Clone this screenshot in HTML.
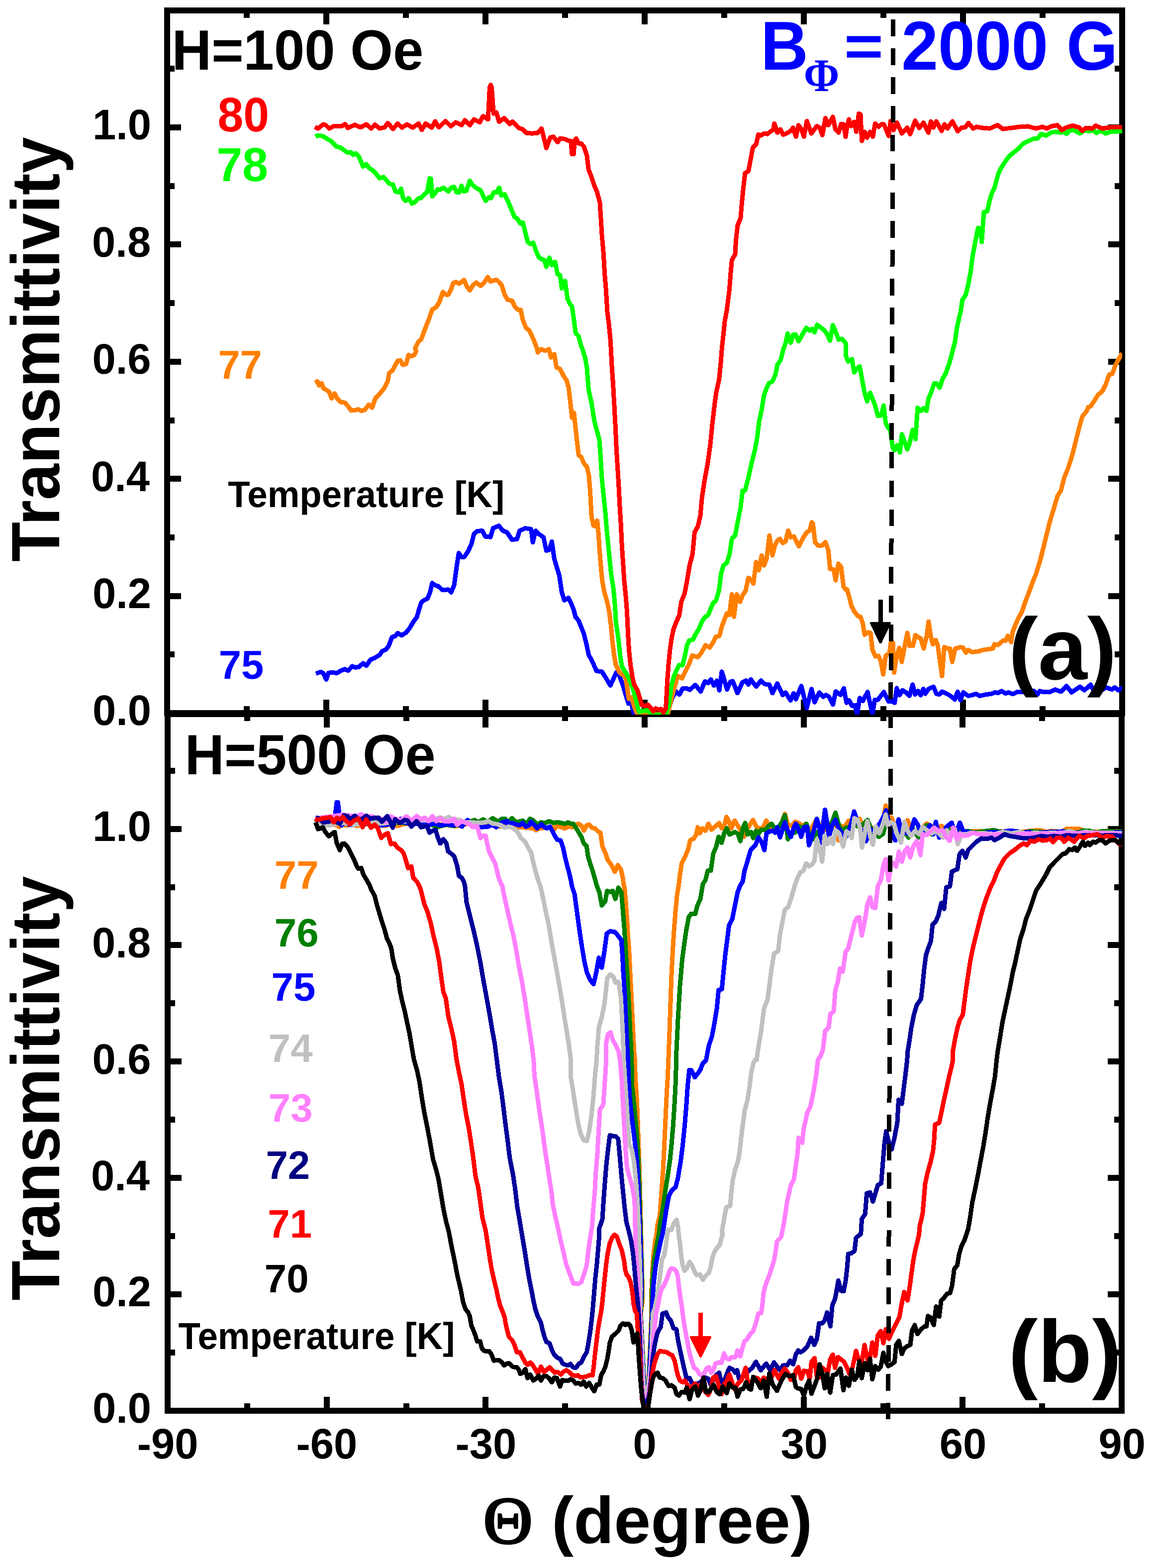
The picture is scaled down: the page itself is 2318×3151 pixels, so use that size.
<!DOCTYPE html>
<html lang="en"><head><meta charset="utf-8"><title>Transmittivity vs angle</title>
<style>
html,body{margin:0;padding:0;background:#fff;}
body{width:2318px;height:3151px;overflow:hidden;font-family:"Liberation Sans",sans-serif;}
svg{display:block;}
</style></head><body>
<svg xmlns="http://www.w3.org/2000/svg" width="2318" height="3151" viewBox="0 0 2318 3151" shape-rendering="crispEdges" text-rendering="geometricPrecision">
<rect x="0" y="0" width="2318" height="3151" fill="#fff"/>
<g stroke="#000" stroke-width="12" fill="none" stroke-linecap="butt">
<rect x="335.9" y="21.0" width="1920.1" height="1412.0"/>
<line x1="335.9" y1="21.0" x2="335.9" y2="49.0"/>
<line x1="335.9" y1="1405.6" x2="335.9" y2="1433.0"/>
<line x1="495.9" y1="21.0" x2="495.9" y2="36.0"/>
<line x1="495.9" y1="1418.6" x2="495.9" y2="1433.0"/>
<line x1="655.9" y1="21.0" x2="655.9" y2="49.0"/>
<line x1="655.9" y1="1405.6" x2="655.9" y2="1433.0"/>
<line x1="815.9" y1="21.0" x2="815.9" y2="36.0"/>
<line x1="815.9" y1="1418.6" x2="815.9" y2="1433.0"/>
<line x1="975.9" y1="21.0" x2="975.9" y2="49.0"/>
<line x1="975.9" y1="1405.6" x2="975.9" y2="1433.0"/>
<line x1="1135.9" y1="21.0" x2="1135.9" y2="36.0"/>
<line x1="1135.9" y1="1418.6" x2="1135.9" y2="1433.0"/>
<line x1="1295.9" y1="21.0" x2="1295.9" y2="49.0"/>
<line x1="1295.9" y1="1405.6" x2="1295.9" y2="1433.0"/>
<line x1="1456.0" y1="21.0" x2="1456.0" y2="36.0"/>
<line x1="1456.0" y1="1418.6" x2="1456.0" y2="1433.0"/>
<line x1="1616.0" y1="21.0" x2="1616.0" y2="49.0"/>
<line x1="1616.0" y1="1405.6" x2="1616.0" y2="1433.0"/>
<line x1="1776.0" y1="21.0" x2="1776.0" y2="36.0"/>
<line x1="1776.0" y1="1418.6" x2="1776.0" y2="1433.0"/>
<line x1="1936.0" y1="21.0" x2="1936.0" y2="49.0"/>
<line x1="1936.0" y1="1405.6" x2="1936.0" y2="1433.0"/>
<line x1="2096.0" y1="21.0" x2="2096.0" y2="36.0"/>
<line x1="2096.0" y1="1418.6" x2="2096.0" y2="1433.0"/>
<line x1="2256.0" y1="21.0" x2="2256.0" y2="49.0"/>
<line x1="2256.0" y1="1405.6" x2="2256.0" y2="1433.0"/>
<line x1="335.9" y1="1433.0" x2="363.9" y2="1433.0"/>
<line x1="2228.0" y1="1433.0" x2="2256.0" y2="1433.0"/>
<line x1="335.9" y1="1315.3" x2="350.9" y2="1315.3"/>
<line x1="2241.0" y1="1315.3" x2="2256.0" y2="1315.3"/>
<line x1="335.9" y1="1197.6" x2="363.9" y2="1197.6"/>
<line x1="2228.0" y1="1197.6" x2="2256.0" y2="1197.6"/>
<line x1="335.9" y1="1079.9" x2="350.9" y2="1079.9"/>
<line x1="2241.0" y1="1079.9" x2="2256.0" y2="1079.9"/>
<line x1="335.9" y1="962.2" x2="363.9" y2="962.2"/>
<line x1="2228.0" y1="962.2" x2="2256.0" y2="962.2"/>
<line x1="335.9" y1="844.5" x2="350.9" y2="844.5"/>
<line x1="2241.0" y1="844.5" x2="2256.0" y2="844.5"/>
<line x1="335.9" y1="726.8" x2="363.9" y2="726.8"/>
<line x1="2228.0" y1="726.8" x2="2256.0" y2="726.8"/>
<line x1="335.9" y1="609.1" x2="350.9" y2="609.1"/>
<line x1="2241.0" y1="609.1" x2="2256.0" y2="609.1"/>
<line x1="335.9" y1="491.4" x2="363.9" y2="491.4"/>
<line x1="2228.0" y1="491.4" x2="2256.0" y2="491.4"/>
<line x1="335.9" y1="373.7" x2="350.9" y2="373.7"/>
<line x1="2241.0" y1="373.7" x2="2256.0" y2="373.7"/>
<line x1="335.9" y1="256.0" x2="363.9" y2="256.0"/>
<line x1="2228.0" y1="256.0" x2="2256.0" y2="256.0"/>
<line x1="335.9" y1="138.3" x2="350.9" y2="138.3"/>
<line x1="2241.0" y1="138.3" x2="2256.0" y2="138.3"/>
<rect x="337.0" y="1435.0" width="1918.1" height="1400.2"/>
<line x1="337.0" y1="1435.0" x2="337.0" y2="1461.6"/>
<line x1="337.0" y1="2807.2" x2="337.0" y2="2835.2"/>
<line x1="496.8" y1="1435.0" x2="496.8" y2="1448.6"/>
<line x1="496.8" y1="2820.2" x2="496.8" y2="2835.2"/>
<line x1="656.7" y1="1435.0" x2="656.7" y2="1461.6"/>
<line x1="656.7" y1="2807.2" x2="656.7" y2="2835.2"/>
<line x1="816.5" y1="1435.0" x2="816.5" y2="1448.6"/>
<line x1="816.5" y1="2820.2" x2="816.5" y2="2835.2"/>
<line x1="976.4" y1="1435.0" x2="976.4" y2="1461.6"/>
<line x1="976.4" y1="2807.2" x2="976.4" y2="2835.2"/>
<line x1="1136.2" y1="1435.0" x2="1136.2" y2="1448.6"/>
<line x1="1136.2" y1="2820.2" x2="1136.2" y2="2835.2"/>
<line x1="1296.0" y1="1435.0" x2="1296.0" y2="1461.6"/>
<line x1="1296.0" y1="2807.2" x2="1296.0" y2="2835.2"/>
<line x1="1455.9" y1="1435.0" x2="1455.9" y2="1448.6"/>
<line x1="1455.9" y1="2820.2" x2="1455.9" y2="2835.2"/>
<line x1="1615.7" y1="1435.0" x2="1615.7" y2="1461.6"/>
<line x1="1615.7" y1="2807.2" x2="1615.7" y2="2835.2"/>
<line x1="1775.6" y1="1435.0" x2="1775.6" y2="1448.6"/>
<line x1="1775.6" y1="2820.2" x2="1775.6" y2="2835.2"/>
<line x1="1935.4" y1="1435.0" x2="1935.4" y2="1461.6"/>
<line x1="1935.4" y1="2807.2" x2="1935.4" y2="2835.2"/>
<line x1="2095.3" y1="1435.0" x2="2095.3" y2="1448.6"/>
<line x1="2095.3" y1="2820.2" x2="2095.3" y2="2835.2"/>
<line x1="2255.1" y1="1435.0" x2="2255.1" y2="1461.6"/>
<line x1="2255.1" y1="2807.2" x2="2255.1" y2="2835.2"/>
<line x1="337.0" y1="2835.0" x2="365.0" y2="2835.0"/>
<line x1="2227.1" y1="2835.0" x2="2255.1" y2="2835.0"/>
<line x1="337.0" y1="2718.1" x2="352.0" y2="2718.1"/>
<line x1="2240.1" y1="2718.1" x2="2255.1" y2="2718.1"/>
<line x1="337.0" y1="2601.1" x2="365.0" y2="2601.1"/>
<line x1="2227.1" y1="2601.1" x2="2255.1" y2="2601.1"/>
<line x1="337.0" y1="2484.2" x2="352.0" y2="2484.2"/>
<line x1="2240.1" y1="2484.2" x2="2255.1" y2="2484.2"/>
<line x1="337.0" y1="2367.2" x2="365.0" y2="2367.2"/>
<line x1="2227.1" y1="2367.2" x2="2255.1" y2="2367.2"/>
<line x1="337.0" y1="2250.2" x2="352.0" y2="2250.2"/>
<line x1="2240.1" y1="2250.2" x2="2255.1" y2="2250.2"/>
<line x1="337.0" y1="2133.3" x2="365.0" y2="2133.3"/>
<line x1="2227.1" y1="2133.3" x2="2255.1" y2="2133.3"/>
<line x1="337.0" y1="2016.3" x2="352.0" y2="2016.3"/>
<line x1="2240.1" y1="2016.3" x2="2255.1" y2="2016.3"/>
<line x1="337.0" y1="1899.4" x2="365.0" y2="1899.4"/>
<line x1="2227.1" y1="1899.4" x2="2255.1" y2="1899.4"/>
<line x1="337.0" y1="1782.5" x2="352.0" y2="1782.5"/>
<line x1="2240.1" y1="1782.5" x2="2255.1" y2="1782.5"/>
<line x1="337.0" y1="1665.5" x2="365.0" y2="1665.5"/>
<line x1="2227.1" y1="1665.5" x2="2255.1" y2="1665.5"/>
<line x1="337.0" y1="1548.5" x2="352.0" y2="1548.5"/>
<line x1="2240.1" y1="1548.5" x2="2255.1" y2="1548.5"/>
</g>
<defs><clipPath id="ca"><rect x="337" y="21" width="1919" height="1415"/></clipPath><clipPath id="cb"><rect x="337" y="1434" width="1919" height="1403"/></clipPath></defs>
<polyline points="635,1353.6 644.9,1350.2 649.9,1352.9 655.9,1365.6 660.6,1352.2 669.9,1351.2 677.2,1352.9 684.9,1347.9 693.2,1344.6 699.9,1347.9 708.2,1338.9 714.9,1341.3 721.5,1340.3 729.8,1332.9 736.5,1337.9 744.8,1325.6 753.1,1322.3 763.1,1316.3 768.1,1309 776.5,1304.6 781.4,1298 788.1,1280.3 794.8,1278 799.8,1272.3 807.1,1277 816.4,1271.3 823.1,1263 831.4,1249 838,1240.4 841.4,1228.1 847,1210.4 852.4,1206.4 859.7,1202.4 864.7,1189.8 869,1171.5 873.7,1175.8 881.3,1178.1 889.6,1185.8 901.3,1184.8 907,1190.4 913,1175.8 917.9,1139.8 922.3,1111.5 927.9,1119.2 933.6,1119.2 941.3,1107.2 947.9,1093.2 952.9,1072.6 959.6,1067.3 969.6,1066.6 975.5,1078.2 986.2,1079.2 991.2,1061.6 1002.8,1056.6 1011.2,1066.6 1019.5,1069.9 1029.5,1084.9 1039.5,1083.2 1044.5,1066.6 1056.1,1061.6 1067.8,1063.3 1071.1,1089.9 1076.8,1066.6 1082.7,1072.6 1092.7,1079.9 1098.4,1106.5 1104.4,1104.9 1109.4,1088.2 1114.4,1123.2 1124.4,1156.5 1129.4,1189.8 1134.4,1206.4 1142.7,1201.4 1148.4,1213 1153.3,1225.1 1156.9,1239.6 1163,1246.9 1169,1261.4 1173.8,1273.5 1178.7,1292.9 1183.5,1315.9 1190.8,1329.2 1199.3,1348.5 1210.2,1349.8 1218.6,1363.1 1227.1,1377.6 1239.2,1351 1245.3,1358.2 1252.5,1377.6 1257.4,1394.6 1263.4,1413.9 1269.5,1412.7 1273.1,1430.9 1275.5,1436.9 1317.9,1436.9 1342.1,1430.9 1351.8,1401.8 1359.1,1389.7 1365.9,1395.8 1372.4,1383.7 1380.9,1383.7 1386.9,1386.1 1397.8,1376.4 1408.7,1389.7 1417.2,1369.1 1423.2,1372.8 1429.3,1365.5 1435.4,1377.6 1441.4,1367.9 1446.2,1387.3 1451.1,1349.8 1454.8,1361.5 1461.6,1385.7 1468.2,1370 1473,1368.8 1482.7,1393 1492.4,1371.2 1499.6,1367.6 1504.5,1376 1509.3,1365.1 1520.2,1379.7 1529.9,1367.6 1537.2,1374.8 1546.9,1376 1552.9,1393 1562.6,1373.6 1573.5,1396.6 1579.5,1391.8 1589.2,1407.5 1595.3,1393 1600.1,1405.1 1611,1378.5 1621.9,1423.2 1631.6,1384.5 1637.7,1411.1 1647.3,1391.8 1654.6,1400.2 1660.7,1396.6 1666.7,1400.2 1674.7,1416 1680,1389.3 1689.7,1396.6 1696.5,1383.3 1701.8,1412.3 1707.1,1407.5 1712.7,1418.4 1718.8,1417.2 1723.1,1435.4 1728.5,1402.7 1734.5,1408.7 1744.2,1390.6 1753.9,1435.4 1758.7,1406.3 1764.8,1406.3 1776.9,1390.6 1786.6,1409.9 1791.4,1408.7 1798.7,1412.3 1802.8,1382.9 1808.5,1397.1 1814.2,1387.1 1821.3,1391.4 1828.5,1398.5 1834.7,1375.8 1839.8,1395.7 1845.5,1388.6 1851.2,1397.1 1856.3,1384.3 1860.3,1394.2 1866.9,1384.3 1876.8,1380 1882.5,1394.2 1888.2,1395.7 1893.9,1390 1903.8,1394.2 1911,1398.5 1919.5,1405.6 1925.2,1390 1930.9,1407.1 1936.6,1391.4 1946.5,1398.5 1953.6,1397.1 1962.2,1394.2 1969.3,1398.5 1982.1,1395.7 1993.5,1394.2 2000.6,1391.4 2006.3,1392.8 2013.4,1388.6 2021.9,1393.7 2027.6,1391.4 2036.1,1394.8 2044.7,1390.8 2056.1,1390 2070.3,1390 2078.8,1388.6 2085.9,1395.7 2090.2,1388.6 2098.7,1390.8 2110.1,1390.8 2121.5,1385.7 2132.9,1390 2144.2,1378.6 2154.2,1391.4 2162.7,1385.7 2171.3,1380 2179.8,1387.1 2186.9,1381.4 2192.6,1375.8 2198.3,1387.1 2209.7,1390 2223.9,1381.4 2235.3,1385.7 2241,1381.4 2248.1,1387.1 2256.6,1381.4" fill="none" stroke="#0000ff" stroke-width="9" stroke-linejoin="round" stroke-linecap="butt" clip-path="url(#ca)"/>
<polyline points="633.3,768.9 638.3,766.6 641.6,774.9 646.6,769.9 649.9,779.9 661.6,787.2 666.6,800.5 672.6,790.6 678.2,801.5 684.9,808.2 693.2,809.2 699.9,816.5 705.9,824.8 713.2,824.8 719.9,822.5 726.5,825.8 733.2,823.8 741.5,813.2 748.2,819.2 754.8,799.9 763.1,791.6 773.1,779.2 779.8,764.9 782.4,749.9 789.8,743.3 794.8,733.3 799.8,725 804.8,724 809.7,733.3 816.4,731.6 821.4,713.3 826.4,716 833.1,713.3 837,705 834.7,700 841.4,686 846.4,682.7 856.4,656.1 863,639.4 869,622.1 876.3,617.8 883,607.8 890.3,586.8 896.3,592.1 901.3,592.1 906.3,582.8 911.3,568.8 916.3,566.8 922.9,570.2 932.9,562.8 937.9,574.5 944.6,583.5 951.2,572.8 957.9,567.8 966.2,574.5 972.9,568.8 980.5,556.8 986.2,565.5 997.9,562.2 1002.8,566.2 1008.8,573.5 1014.5,592.1 1020.2,602.1 1029.5,604.4 1036.1,617.8 1042.1,622.8 1046.8,622.8 1051.1,642.7 1057.8,659.4 1064.4,664.4 1072.8,682.7 1079.4,700 1081.1,708.3 1087.7,701.7 1096.1,705 1103.4,701.7 1107.7,718.3 1114.4,711.7 1118.7,738.3 1126,741.6 1132.7,754.9 1139.3,764.9 1143.3,779.9 1146,803.2 1150,839.8 1154,829.8 1156.7,856.5 1160,886.4 1163.3,914.7 1168.3,918.1 1174,931.4 1180,938 1184,956.4 1186.6,989.6 1189.3,1039.6 1193.3,1056.2 1196.6,1057.9 1200.6,1046.2 1203.3,1072.9 1204.9,1099.5 1207.3,1129.5 1210.6,1166.1 1214.9,1189.4 1220.6,1209.4 1224.9,1229.4 1227.2,1250 1228.3,1256.5 1230.8,1285.6 1234.4,1314.6 1238,1336.4 1245.3,1351 1251.3,1355.8 1257.4,1360.7 1261,1382.4 1264.2,1404.2 1269.5,1401.8 1273.1,1413.9 1279.2,1430.9 1284,1435.7 1293.7,1433.3 1305.8,1434.5 1317.9,1435.7 1332.4,1435.7 1342.1,1435.7 1347,1416.3 1353,1392.1 1357.9,1375.2 1362.7,1358.2 1371.2,1363.1 1377.2,1351 1384.5,1336.4 1391.8,1317.1 1402.7,1320.7 1409.9,1312.2 1418.4,1296.5 1426.9,1301.3 1434.1,1290.4 1439,1279.5 1446.2,1278.3 1451.1,1259 1461.3,1232.7 1466.3,1236 1471.3,1194.4 1475.6,1239.3 1481.3,1194.4 1487.9,1209.4 1492.9,1196.1 1498.9,1187.7 1504.6,1161.1 1509.6,1164.4 1514.6,1172.8 1520.2,1129.5 1525.5,1146.1 1531.2,1116.2 1536.2,1136.1 1541.2,1122.8 1546.9,1076.2 1552.8,1116.2 1557.8,1096.2 1562.8,1086.2 1567.8,1082.9 1573.5,1091.2 1579.5,1087.9 1584.5,1066.2 1589.5,1079.5 1596.1,1077.9 1606.1,1097.9 1614.4,1081.2 1622.1,1069.6 1627.8,1066.2 1632.1,1049.6 1634.4,1052.9 1638.7,1089.5 1644.4,1096.2 1652.7,1096.2 1659.4,1089.5 1665.4,1106.2 1668.7,1142.8 1676,1144.5 1680,1166.1 1685.4,1132.8 1691,1139.5 1696,1179.4 1700,1184.4 1703,1184.7 1707.9,1201.7 1712,1218.6 1718.8,1230.8 1724.8,1238 1729.7,1239.2 1734.5,1252.5 1738.1,1275.5 1744.2,1270.7 1750.2,1271.9 1753.9,1305.8 1759.9,1319.1 1766,1317.9 1770.8,1328.8 1775.7,1355.4 1780.5,1317.9 1787.8,1313.1 1791.4,1288.9 1795,1291.3 1797.5,1351.8 1802.8,1317.4 1808,1301.8 1812.8,1330.2 1818.5,1300.4 1824.2,1271.9 1828.5,1297.5 1835.6,1297.5 1840.4,1276.2 1845.5,1280.4 1851.2,1283.3 1856.9,1303.2 1863.2,1277.6 1866.9,1249.2 1871.1,1277.6 1875.4,1294.7 1881.1,1286.1 1885.4,1297.5 1889.6,1328.8 1893.9,1358.7 1898.2,1300.4 1905.3,1303.2 1909.5,1303.2 1914.4,1330.2 1920.1,1303.2 1926.6,1301.8 1930.9,1300.4 1936.6,1301.8 1941.7,1311.7 1946.5,1306.1 1953.6,1310.3 1965,1309.5 1976.4,1306.1 1987.8,1304.6 1996.3,1303.2 1999.2,1294.7 2006.3,1296.1 2016.2,1287.6 2021.9,1287.6 2026.2,1277.6 2032.7,1290.4 2036.1,1269.1 2041.8,1254.8 2047.9,1241 2054.6,1229.4 2061.2,1209.4 2069.6,1187.7 2076.2,1169.4 2082.9,1152.8 2091.2,1126.2 2097.9,1099.5 2104.5,1072.9 2110.2,1049.6 2117.8,1024.6 2126.2,996.3 2132.8,986.3 2139.5,959.7 2147.8,939.7 2156.1,913.1 2162.8,886.4 2169.4,859.8 2176.1,836.5 2184.4,826.5 2187.7,818.2 2192.7,816.5 2199.4,806.5 2207.7,793.2 2216,786.6 2222.7,773.2 2230,752.6 2236,751.6 2242.7,733.3 2250,720 2256,710" fill="none" stroke="#ff8000" stroke-width="9" stroke-linejoin="round" stroke-linecap="butt" clip-path="url(#ca)"/>
<polyline points="634.3,274.8 638.3,272.5 648.3,273.2 664.9,283.2 676.6,294.8 684.9,296.5 698.2,306.5 704.9,305.8 709.9,311.5 714.9,308.1 721.5,314.8 729.8,334.8 736.5,329.8 742.5,338.1 748.2,341.4 756.5,349.8 763.1,358.1 771.5,355.8 783.1,369.7 789.8,370.4 794.8,384.7 801.4,386.4 806.4,379.1 810.4,398 815.7,403.7 821.4,398 828.1,409 833.1,407 840.4,399 846.4,398 854.7,389 859,386.4 863.7,358.1 866.3,359.1 869,394.7 873.7,389.7 879.7,380.4 884.7,381.4 891.3,377.1 901.3,384.7 908,376.4 913,375.7 917.9,386.4 922.9,387 927.9,373.1 932.3,384.7 937.9,383.1 944.6,363.1 949.6,371.4 957.9,378.1 966.2,382.4 976.2,403.7 982.9,396.4 986.9,398 992.9,386.4 997.9,387 1003.5,377.1 1007.8,393 1014.5,390.4 1022.8,408 1034.5,436.3 1039.5,439 1046.1,449 1051.1,447 1061.1,486.3 1066.1,490.3 1072.1,487.9 1077.8,504.6 1082.7,516.2 1087.7,520.2 1094.4,522.9 1098.4,536.2 1104.4,517.9 1109.4,532.9 1116,526.2 1121,551.2 1126,552.8 1129.4,579.5 1136,564.5 1141,601.1 1146,611.1 1150,616.1 1153.3,639.4 1157.3,669.4 1163.3,676 1168.3,696 1170.6,700 1176.6,720 1180,740 1183.3,783.2 1189.3,809.9 1194.9,846.5 1204.9,883.1 1207.3,916.4 1209.9,959.7 1213.9,999.6 1217.3,1032.9 1219.9,1066.2 1223.9,1106.2 1228.2,1149.5 1233.2,1182.7 1236.6,1219.4 1238.2,1250 1242.9,1280.8 1246.5,1314.6 1250.1,1338.9 1257.4,1351 1264.6,1363.1 1270.7,1380 1276.8,1399.4 1281.6,1418.8 1285.2,1430.9 1293.7,1428.5 1301,1427.2 1308.2,1433.3 1317.9,1436.9 1337.3,1436.9 1339.7,1434.5 1344.6,1416.3 1349.4,1380 1354.2,1360.7 1360.3,1346.1 1365.1,1336.4 1372.4,1336.4 1377.2,1317.1 1380.9,1297.7 1385.7,1286.8 1393,1285.6 1399,1273.5 1405.1,1263.8 1411.1,1249.3 1416.3,1241 1423.7,1236 1433,1212.7 1439.6,1206.1 1445.6,1186.1 1449.6,1152.8 1454.6,1136.1 1461.3,1131.1 1466.9,1112.8 1471.3,1082.9 1477.9,1076.2 1482.9,1049.6 1488.9,1019.6 1492.9,986.3 1497.9,985.7 1504.6,959.7 1511.2,929.7 1517.9,903.1 1522.2,879.8 1526.2,846.5 1531.2,823.2 1536.2,793.2 1541.2,779.9 1546.2,769.9 1552.8,766.6 1558.8,753.3 1562.8,733.3 1569.5,723.3 1574.5,703.3 1579.5,689.3 1583.5,670 1589.5,688.7 1594.5,672.7 1599.5,672 1605.4,686 1612.8,672.7 1621.1,658.7 1627.8,664.4 1632.7,661 1637.7,667.7 1642.7,652.7 1649.4,657.7 1656.1,662.7 1662.7,671 1668.7,684.4 1674.4,653.4 1681,669.4 1686,682.7 1692.7,681 1700,689.3 1700,713.3 1705,726.6 1712.7,721.6 1717.3,748.3 1722.6,741.6 1728.3,736 1733.3,763.3 1738.3,789.9 1743.3,806.5 1749.3,789.2 1754.9,803.2 1759.9,816.5 1764.9,835.8 1771.6,834.8 1776.6,814.9 1780.6,849.8 1784.9,859.1 1789.9,864.8 1794.9,899.8 1798.2,904.8 1803.9,894.8 1809.2,909.1 1813.2,872.5 1818.2,886.4 1823.8,903.1 1828.2,893.1 1834.8,863.8 1840.5,882.4 1844.8,819.2 1851.5,825.8 1856.5,820.5 1862.5,825.8 1866.5,801.5 1871.5,789.9 1878.1,770.6 1883.1,770.6 1889.1,779.2 1894.8,761.6 1901.4,749.9 1908.1,731.6 1913.1,713.3 1916.4,700 1919.7,687.7 1923.7,659.4 1928.1,639.4 1931.4,626.1 1934.7,602.8 1941.4,592.8 1946.4,572.8 1951.4,546.2 1955.7,512.9 1961.3,482.9 1966.3,458 1971.3,459.6 1973.7,486.3 1978,426.3 1984.7,424.7 1989.6,403 1994.6,386.4 1999.6,376.4 2006.3,351.4 2011.3,339.8 2019.6,326.5 2029.6,313.1 2046.2,299.8 2056.2,289.2 2066.2,283.8 2079.5,278.2 2086.2,278.2 2092.9,269.2 2102.8,272.5 2112.8,266.5 2122.8,264.9 2132.8,266.5 2139.5,264.9 2144.5,269.2 2149.5,262.5 2157.8,261.5 2164.4,264.9 2171.1,268.2 2179.4,262.5 2189.4,263.2 2199.4,262.5 2204.4,267.2 2212.7,262.5 2222.7,268.2 2232.7,264.9 2250,263.9 2256,263.9" fill="none" stroke="#00ff00" stroke-width="9" stroke-linejoin="round" stroke-linecap="butt" clip-path="url(#ca)"/>
<polyline points="633.3,254.9 639.3,258.2 649.9,249.9 654.9,251.5 661.6,258.2 671.6,253.2 686.6,253.9 693.9,249.2 699.2,257.2 713.2,250.9 724.8,255.9 736.5,249.9 746.5,258.2 753.8,250.5 763.1,258.2 773.1,255.9 779.8,247.2 789.8,259.2 799.8,248.2 808.1,256.5 818.1,249.9 829.7,256.5 841.4,248.2 848,260.9 855.7,248.2 868,256.5 874.7,243.9 882.3,255.9 895.6,243.2 906.3,253.9 916.3,245.9 927.9,251.5 934.6,241.6 944.6,251.5 952.9,239.9 964.6,245.9 971.2,233.2 981.2,239.9 984.5,175 986.5,170.6 988.5,176.6 992.2,228.2 997.9,225.9 1003.5,244.9 1013.5,237.2 1024.5,249.2 1030.1,244.2 1042.8,257.2 1051.1,259.9 1057.8,267.2 1069.4,268.2 1081.1,267.2 1088.7,258.2 1098.4,297.5 1106.1,276.5 1112.7,274.8 1121,285.8 1126,278.2 1134.4,279.2 1144.3,283.2 1147.7,283.2 1150,309.8 1153.3,309.8 1155,283.2 1158.3,278.2 1162.7,288.2 1168.3,288.2 1174,294.8 1180,313.1 1183.3,341.4 1188.3,353.1 1194.9,373.1 1199.9,384.7 1205.9,406.4 1208.3,443 1209.9,469.6 1213.3,509.6 1215.6,549.5 1218.3,582.8 1220.9,626.1 1223.9,649.4 1227.2,682.7 1228.2,700 1229.9,733.3 1232.6,773.2 1234.9,813.2 1237.2,856.5 1239.2,899.8 1241.6,939.7 1243.9,976.3 1245.9,1016.3 1248.2,1052.9 1249.9,1089.5 1252.5,1129.5 1254.9,1166.1 1258.2,1199.4 1260.5,1229.4 1261.5,1250 1262.7,1275.9 1264.6,1307.4 1267.6,1336.4 1271.4,1360.7 1274.8,1375.2 1281.6,1387.3 1286,1401.8 1290.1,1416.3 1296.1,1418.8 1302.2,1416.3 1308.2,1422.4 1313.1,1429.7 1317.9,1423.6 1322.8,1426 1328.8,1424.8 1333.7,1432.1 1338.5,1423.6 1339.7,1404.2 1341.6,1367.9 1344.1,1334 1347,1305 1350.6,1280.8 1354.2,1263.8 1359.7,1250 1365.7,1236 1369.7,1209.4 1376.4,1192.7 1381.4,1166.1 1386.4,1136.1 1392.4,1112.8 1396.4,1069.6 1403,1057.9 1408,1036.3 1411.3,999.6 1416.3,966.3 1423,929.7 1428,893.1 1432.3,849.8 1437,809.9 1440.3,786.6 1445.6,763.3 1449,730 1451.3,700 1454.6,669.4 1457,646.1 1461.3,622.8 1466.3,582.8 1468.9,549.5 1471.3,522.9 1477.9,511.2 1479.6,482.9 1482.9,453 1488.9,438 1491.3,409.7 1494.6,376.4 1497.9,348.1 1504.6,343.8 1507.9,326.5 1513.6,296.5 1520.2,289.8 1524.5,270.5 1529.5,272.5 1536.2,268.2 1542.9,269.2 1549.5,263.9 1554.5,261.5 1556.8,248.2 1562.8,266.5 1568.8,259.9 1574.5,270.5 1581.1,268.2 1589.5,263.2 1594.5,256.5 1600.1,274.8 1605.4,251.5 1611.1,259.9 1616.1,274.8 1622.1,243.2 1631.1,268.2 1642.1,253.2 1647.7,256.5 1653.4,271.5 1659.4,237.2 1665.4,251.5 1674.4,234.9 1679.4,259.9 1686,266.5 1691,249.2 1696,249.9 1700,274.8 1702.7,256.5 1706.7,239.9 1710.7,253.2 1717.3,244.9 1721.6,264.9 1726.6,228.2 1730,229.9 1732.6,283.2 1738.3,264.9 1743.3,276.5 1749.3,264.9 1754.9,274.8 1759.3,248.2 1766.6,254.9 1771.6,249.9 1777.2,249.9 1786.6,273.2 1790.6,243.2 1796.5,261.5 1803.2,246.5 1813.2,268.2 1823.8,256.5 1829.8,269.9 1839.8,242.6 1848.2,257.2 1856.5,246.5 1866.5,266.5 1871.5,243.9 1876.5,256.5 1882.4,243.9 1893.1,263.2 1898.8,249.9 1904.8,258.2 1914.7,243.9 1925.7,263.9 1933.1,256.5 1940.4,255.9 1947,247.2 1956.4,258.2 1963,254.9 1976.3,257.2 1989.6,258.2 2005.6,251.5 2016.3,259.2 2032.9,257.2 2049.6,254.9 2066.2,253.9 2082.9,258.2 2096.2,254.9 2104.5,258.2 2112.8,253.9 2126.2,251.5 2134.5,261.5 2142.8,256.5 2156.1,252.5 2169.4,255.9 2176.1,263.2 2182.7,257.2 2196.1,258.2 2202.7,252.5 2216,258.2 2232.7,255.9 2250,255.9 2256,255.9" fill="none" stroke="#ff0000" stroke-width="9" stroke-linejoin="round" stroke-linecap="butt" clip-path="url(#ca)"/>
<polyline points="633.3,1646.6 644.2,1655.5 650.3,1658 656.3,1656.3 668.4,1657 676.9,1658 681.7,1661.8 687.8,1657.5 697.5,1658.9 707.2,1656.3 716.9,1659.9 729,1656.3 741.1,1657 755.6,1655.5 772.5,1659.9 784.6,1656.3 799.2,1659.9 813.7,1655.5 837.9,1655.5 874.2,1656.3 896,1657.5 915.4,1660.4 934.8,1657 949.3,1652.6 971.1,1655.1 1000.1,1657.5 1000,1659.9 1024.2,1661.1 1048.4,1662.3 1072.6,1664.7 1077.5,1668.4 1084.7,1664.7 1096.9,1663.5 1110.2,1662.3 1115,1666 1119.9,1659.9 1128.3,1662.3 1135.6,1664.7 1142.9,1661.1 1150.1,1662.3 1157.4,1657.5 1163.4,1655.5 1169.5,1659.9 1173.8,1669.1 1179.2,1658.7 1184.5,1657 1190.1,1663.5 1196.1,1664.7 1202.2,1670.8 1207,1673.2 1209.4,1689 1211.1,1701.1 1216.7,1713.2 1221.5,1727.7 1228.8,1737.4 1236.1,1751.9 1242.1,1738.6 1248.2,1747.1 1251.8,1761.6 1254.2,1780 1255.9,1786.4 1258.2,1813.1 1260.5,1846.3 1262.5,1879.6 1264.9,1912.9 1266.5,1946.2 1268.2,1979.5 1269.9,2012.8 1271.5,2046.1 1273.2,2079.4 1274.8,2112.7 1276.5,2130 1277.2,2163.3 1280.5,2213.2 1282.5,2263.2 1284.2,2313.1 1285.8,2363.1 1290.6,2552.6 1292,2613.2 1288.2,2640 1289.3,2658.7 1291.1,2696.1 1292.8,2733.5 1294.4,2771 1296.6,2783.1 1299.1,2790.6 1301.6,2783.1 1304.4,2771 1305.1,2752.3 1305.8,2733.5 1307.4,2696.1 1309,2658.7 1309.9,2640 1309.4,2601.1 1310.9,2572 1312.3,2540.5 1314.3,2516.3 1317.4,2492.1 1319.9,2480 1321.5,2462.9 1326.5,2443 1329.8,2396.3 1333.1,2349.7 1335.8,2296.5 1338.1,2246.5 1340.4,2196.6 1342.4,2163.3 1343.8,2130 1343.8,2130 1345.8,2079.4 1348.1,2012.8 1349.8,1962.9 1352.4,1912.9 1354.8,1873 1358.1,1829.7 1361.4,1796.4 1364.4,1780 1366.8,1759.2 1370.5,1735 1377.7,1720.4 1383.8,1705.9 1387.4,1689 1394.7,1685.3 1400,1676.9 1402.9,1662.3 1407.3,1674.4 1412.1,1664.7 1418.2,1669.6 1424.2,1655.1 1430.3,1667.2 1437.5,1661.1 1446,1653.8 1450.8,1664.7 1456.2,1659.9 1460.5,1641.7 1465.4,1650.2 1470.2,1664.7 1477,1649 1483.5,1659.9 1488.4,1667.2 1495.6,1681.7 1501.7,1667.2 1507.7,1657.5 1513.8,1647.8 1519.9,1659.9 1525.9,1666 1534.4,1662.3 1540.4,1649 1546.5,1659.9 1555,1664.7 1564.6,1662.3 1571.9,1652.6 1578,1635.7 1584,1657.5 1591.3,1659.9 1598.5,1651.4 1605.8,1653.8 1613.1,1659.9 1620.3,1655.1 1626.4,1674.4 1632.4,1662.3 1639.7,1650.2 1649.4,1657.5 1659.1,1667.2 1667.6,1657.5 1673.6,1659.9 1680.9,1655.1 1685.7,1689 1690.6,1659.9 1697.8,1662.3 1706.3,1649 1713.6,1659.9 1722,1650.2 1728.1,1645.4 1734.1,1659.9 1743.8,1650.2 1751.1,1662.3 1760.8,1669.6 1770.5,1659.9 1776.5,1643 1780.6,1618.7 1785.5,1640.5 1792.3,1643 1800,1662.3 1799.9,1666.6 1809.9,1669.9 1816.5,1659.9 1824.8,1648.3 1833.2,1669.9 1843.2,1676.5 1853.1,1663.2 1863.1,1654.9 1873.1,1659.9 1883.1,1663.2 1893.1,1659.9 1903.1,1669.9 1913.1,1663.2 1926.4,1666.6 1939.7,1670.6 1953,1670.6 1963,1670.9 1972,1669.9 1981.7,1670.9 1990.6,1672.6 2001.3,1669.6 2014.3,1670.9 2025.3,1669.9 2038.3,1669.9 2047.9,1672.6 2056.9,1671.6 2069.6,1669.6 2080.5,1668.9 2092.2,1668.6 2103.8,1671.6 2114.2,1669.9 2124.8,1670.9 2134.1,1671.6 2144.8,1665.2 2156.8,1665.9 2169.1,1665.6 2180.1,1669.9 2191.7,1671.2 2203.7,1671.9 2215.4,1671.6 2224.7,1669.9 2237.7,1670.2 2249.7,1670.2 2256,1671.2" fill="none" stroke="#ff8000" stroke-width="9" stroke-linejoin="round" stroke-linecap="butt" clip-path="url(#cb)"/>
<polyline points="633.3,1646.6 644.2,1650.2 658.7,1652.6 673.3,1650.2 692.6,1651.4 712,1653.8 731.4,1651.4 750.8,1652.6 770.1,1655.1 789.5,1652.6 808.9,1653.8 828.2,1655.1 847.6,1652.6 867,1657.5 871.8,1658.7 879.1,1662.3 886.3,1659.9 898.5,1657.5 910.6,1659.9 925.1,1657.5 939.6,1652.6 954.1,1647.8 961.4,1652.6 971.1,1646.6 980.8,1651.4 990.5,1644.2 1000.1,1650.2 1000,1651.4 1009.7,1645.4 1015.7,1645.4 1021.8,1653.8 1029.1,1644.2 1036.3,1651.4 1042.4,1651.4 1050.8,1649 1058.1,1656.3 1065.4,1645.4 1072.6,1649 1079.9,1657.5 1087.2,1652.6 1096.9,1653.8 1104.1,1650.2 1112.6,1653.8 1119.9,1652.2 1128.3,1653.8 1135.6,1655.5 1141.6,1652.6 1147.7,1655.5 1152.5,1655.1 1158.6,1664.7 1164.6,1674.4 1169.5,1682.9 1173.1,1693.8 1179.2,1699.9 1182.1,1720.4 1186.4,1735 1191.3,1749.5 1196.1,1766.4 1199.8,1780 1199.9,1779.8 1204.9,1793.1 1209.9,1819.7 1216.6,1811.4 1220.6,1790.4 1226.6,1792.4 1231.6,1790.4 1237.2,1806.4 1243.2,1783.8 1249.2,1793.1 1252.5,1833 1254.9,1863 1257.2,1896.3 1259.2,1929.6 1261.5,1962.9 1263.2,1996.2 1264.9,2029.5 1266.5,2062.7 1268.2,2096 1269.9,2130 1270.5,2179.9 1275.8,2229.9 1280.5,2279.8 1283.2,2329.8 1285.2,2379.7 1289.6,2540.5 1291,2601.1 1287.7,2640 1288.8,2658.7 1290.7,2696.1 1292.6,2733.5 1294.3,2771 1296.6,2787.8 1299.5,2797.2 1302.2,2787.8 1304.8,2771 1305.7,2752.3 1306.4,2733.5 1308.1,2696.1 1309.8,2658.7 1310.6,2640 1310.4,2601.1 1312.3,2564.7 1315,2533.3 1319.9,2504.2 1324.7,2480 1326.5,2462.9 1332.4,2429.6 1337.1,2396.3 1342.4,2363.1 1347.1,2329.8 1350.4,2296.5 1353.1,2263.2 1355.8,2223.2 1358.1,2179.9 1359.7,2130 1359.1,2130 1363.1,2046.1 1367.1,1979.5 1371.4,1929.6 1375.7,1896.3 1379.7,1869.6 1384.7,1843 1389.7,1836.4 1398,1836.4 1401.4,1821.4 1408,1806.4 1413,1776.4 1418.2,1768.9 1423,1749.5 1429.1,1749.5 1433.9,1715.6 1440,1701.1 1444.8,1681.7 1450.8,1693.8 1455.7,1674.4 1461,1664.7 1466.6,1676.9 1472.6,1674.4 1477.5,1672 1483.5,1675.6 1488.4,1690.2 1493.2,1664.7 1498.1,1653.8 1502.9,1676.9 1510.2,1672 1514.3,1684.1 1519.9,1669.6 1524.7,1675.6 1530.8,1667.2 1539.2,1668.4 1545.3,1659.9 1551.3,1655.5 1557.4,1664.7 1564.6,1662.3 1571.9,1652.6 1578,1638.1 1584,1686.5 1590.1,1674.4 1598.5,1673.2 1605.8,1659.9 1613.1,1664.7 1621.5,1655.5 1627.6,1681.7 1633.7,1686.5 1642.1,1672 1649.4,1681.7 1656.7,1659.9 1666.3,1664.7 1673.6,1650.2 1679.7,1633.3 1686.9,1659.9 1694.2,1669.6 1700.2,1663.5 1707.5,1662.3 1714.8,1652.6 1722,1659.9 1729.3,1662.3 1736.6,1655.1 1743.8,1647.8 1751.1,1664.7 1758.4,1676.9 1766.8,1681.7 1775.3,1675.6 1781.4,1652.6 1787.4,1650.2 1793.5,1664.7 1800,1667.2 1806.5,1676.5 1814.9,1666.6 1826.5,1683.2 1836.5,1666.6 1846.5,1683.2 1856.5,1666.6 1863.1,1658.2 1873.1,1676.5 1881.4,1668.2 1893.1,1673.2 1906.4,1666.6 1919.7,1669.9 1933.1,1671.6 1946.4,1669.9 1953,1671.6 1962.3,1672.9 1974.3,1671.2 1986.7,1669.2 2000,1668.6 2011.3,1671.9 2020.6,1670.6 2032.3,1672.2 2045.6,1671.2 2058.2,1673.2 2070.6,1670.2 2083.9,1671.6 2093.5,1671.9 2104.2,1672.9 2114.2,1672.6 2126.8,1671.6 2140.5,1670.6 2153.8,1671.6 2165.1,1673.2 2178.1,1668.9 2191.1,1669.6 2203.7,1673.6 2213.7,1670.6 2223.7,1670.9 2234.7,1670.2 2245,1671.2 2253.7,1670.6 2256,1671.9" fill="none" stroke="#008000" stroke-width="9" stroke-linejoin="round" stroke-linecap="butt" clip-path="url(#cb)"/>
<polyline points="634.5,1644.2 644.2,1652.6 656.3,1655.1 667.2,1650.2 673.5,1641 676.9,1612.4 679.3,1612.4 682.7,1641 686.6,1658.7 692.6,1652.6 702.3,1657.5 716.9,1656.3 733.8,1655.1 750.8,1656.3 765.3,1658.7 777.4,1657.5 789.5,1655.1 805.2,1645.4 813.7,1652.6 825.8,1656.3 837.9,1655.1 850,1655.1 862.1,1657.5 874.2,1655.1 886.3,1658.7 898.5,1656.3 910.6,1658.7 922.7,1656.3 928.7,1661.1 939.6,1647.8 949.3,1657.5 959,1655.1 968.7,1662.3 980.8,1661.1 990.5,1657.5 997.7,1662.3 1009.8,1652.6 1020,1650.2 1019.4,1657.5 1029.1,1653.8 1036.3,1656.3 1044.8,1658.7 1050.8,1653.8 1056.9,1661.1 1063.4,1658.7 1067.8,1651.4 1073.8,1657.5 1079.9,1664.7 1088.4,1656.3 1093.2,1661.1 1099.3,1664.7 1105.3,1661.1 1110.2,1669.6 1115,1679.3 1120.6,1687.7 1127.1,1689 1132,1703.5 1135.6,1720.4 1140.4,1739.8 1144.8,1756.8 1148.2,1771.3 1149.6,1780 1155,1796.4 1160,1833 1165,1869.6 1170,1902.9 1175,1932.9 1180,1954.5 1186.6,1969.5 1193.3,1977.9 1198.3,1956.2 1203.9,1924.6 1209.9,1944.6 1214.9,1912.9 1219.9,1876.3 1226.6,1871.3 1236.6,1873 1243.2,1881.3 1249.2,1889.6 1251.5,1922.9 1253.2,1956.2 1255.9,1996.2 1258.2,2046.1 1260.5,2096 1262.5,2130 1263.9,2170 1266.5,2213.2 1271.5,2256.5 1276.5,2296.5 1280.5,2336.4 1283.2,2379.7 1285.2,2429.6 1288.6,2528.4 1290.1,2589 1287.2,2640 1288.4,2658.7 1290.2,2696.1 1292.1,2733.5 1294,2771 1296.1,2791.5 1299.4,2803.7 1302.5,2791.5 1305.3,2771 1306.2,2752.3 1307,2733.5 1308.8,2696.1 1310.4,2658.7 1311.3,2640 1311.9,2613.2 1314.3,2576.9 1318.6,2540.5 1323.5,2516.3 1328.3,2494.5 1332,2480 1334.8,2462.9 1339.8,2429.6 1344.8,2403 1349.8,2393 1358.1,2385.7 1362.4,2369.7 1368.1,2336.4 1372.4,2303.1 1376.4,2263.2 1379.7,2223.2 1382.4,2183.3 1385.7,2150 1389.7,2150.6 1397,2165 1408,2150 1413,2136.7 1419.7,2130 1420.3,2126 1424.7,2102.7 1431.3,2082.7 1436.3,2056.1 1441.3,2026.1 1444.6,1989.5 1451.3,1987.8 1453.6,1962.9 1458,1919.6 1462.3,1886.3 1465.6,1859.7 1472.3,1846.3 1476.9,1823 1482.9,1793.1 1487.9,1779.8 1493.2,1771.3 1496.9,1749.5 1502.9,1730.1 1509,1708.3 1518.6,1698.6 1524.7,1682.9 1530.8,1691.4 1536.8,1708.3 1540.9,1674.4 1547.7,1670.8 1553.8,1669.6 1558.6,1673.2 1562.7,1662.3 1568.3,1682.9 1573.8,1664.7 1578,1652.6 1584,1669.6 1590.1,1681.7 1596.1,1662.3 1599.8,1655.1 1605.8,1667.2 1610.7,1681.7 1616.7,1662.3 1622.8,1661.1 1626.4,1698.6 1632.4,1681.7 1638.5,1659.9 1642.1,1645.4 1647,1662.3 1651.8,1693.8 1655.4,1652.6 1658.6,1627.2 1662.7,1652.6 1666.3,1681.7 1673.6,1657.5 1679.7,1647.8 1685.7,1664.7 1693,1674.4 1700.2,1681.7 1706.3,1672 1712.3,1650.2 1717.2,1630.8 1723.2,1650.2 1729.3,1662.3 1735.4,1676.9 1741.4,1690.2 1748.7,1664.7 1755.9,1672 1763.2,1662.3 1770.5,1652.6 1776.5,1640.5 1781.4,1628.4 1786.2,1650.2 1793.5,1676.9 1800,1689 1806.5,1646.6 1813.2,1676.5 1819.9,1673.2 1829.8,1676.5 1838.2,1646.6 1844.8,1656.6 1851.5,1676.5 1859.8,1673.2 1869.8,1658.2 1876.5,1676.5 1881.4,1651.6 1888.1,1683.2 1896.4,1669.9 1904.8,1659.9 1913.1,1653.2 1921.4,1676.5 1929.7,1653.2 1936.4,1669.9 1946.4,1671.9 1953,1673.2 1965,1674.2 1979,1674.2 1988,1672.9 2000.6,1672.6 2013.3,1671.9 2025.9,1669.9 2036.6,1669.9 2045.6,1670.6 2055.2,1674.2 2063.9,1671.9 2074.5,1673.2 2084.5,1673.2 2096.9,1673.2 2110.5,1671.9 2124.2,1671.2 2137.8,1670.9 2149.8,1673.6 2163.4,1673.9 2173.8,1672.9 2184.4,1674.2 2198.4,1672.6 2207.1,1673.6 2218.7,1674.2 2228,1673.6 2239.3,1672.9 2249.7,1672.6 2256,1672.9" fill="none" stroke="#0000ff" stroke-width="9" stroke-linejoin="round" stroke-linecap="butt" clip-path="url(#cb)"/>
<polyline points="634.5,1647.8 641.8,1655.1 651.5,1657.5 663.6,1658.7 675.7,1655.1 692.6,1653.8 712,1657.5 729,1655.1 745.9,1652.6 765.3,1655.1 789.5,1652.6 813.7,1650.2 837.9,1649 862.1,1647.8 874.2,1646.6 885.1,1642.5 893.6,1646.6 902.1,1641.7 910.6,1647.8 922.7,1647.3 934.8,1652.6 946.9,1652.2 959,1653.8 971.1,1653.1 982,1650.2 990.5,1655.1 1000.1,1656.3 1007.3,1658.7 1014.5,1663.5 1023,1661.1 1030.3,1663.5 1040,1670.8 1047.2,1684.1 1055.7,1691.4 1061.7,1703.5 1067.8,1713.2 1071.4,1730.1 1076.3,1749.5 1081.1,1766.4 1086,1780 1089.4,1793.1 1096.1,1826.4 1102.7,1856.3 1109.4,1896.3 1116,1932.9 1122.7,1969.5 1129.4,2009.5 1136,2052.8 1142.7,2092.7 1147.7,2130 1147.9,2166.6 1152.8,2196.6 1157.8,2229.9 1162.8,2259.8 1167.8,2279.8 1173.5,2291.5 1179.5,2293.1 1184.5,2273.2 1188.8,2243.2 1192.8,2206.6 1196.1,2163.3 1199.5,2130 1200.6,2106 1203.9,2066.1 1209.9,2042.8 1214.9,2019.5 1218.3,1989.5 1220.6,1966.2 1226.6,1957.9 1233.2,1962.9 1237.2,1974.5 1243.2,1972.9 1248.2,2002.8 1250.5,2046.1 1252.5,2086.1 1253.9,2130 1257.2,2179.9 1260.5,2229.9 1263.2,2273.2 1264.9,2299.8 1270.5,2311.4 1274.8,2336.4 1278.2,2369.7 1281.5,2413 1284.2,2462.9 1285.2,2509.1 1286.7,2547.8 1288.1,2589 1286.8,2640 1287.9,2658.7 1289.8,2696.1 1291.6,2733.5 1293,2771 1294.7,2794.3 1298.5,2807.4 1302.2,2794.3 1305.5,2771 1307.4,2752.3 1309,2733.5 1310.6,2696.1 1311.8,2658.7 1312.5,2640 1316.2,2630.1 1321.1,2605.9 1324.7,2581.7 1328.3,2552.6 1330.8,2530.8 1335.1,2523.6 1338.5,2504.2 1341.6,2480 1343.1,2471.3 1349.8,2471.3 1354.8,2457.9 1360.4,2451.3 1363.7,2469.6 1364.2,2480 1367.1,2499.4 1369.5,2523.6 1372.4,2543 1376.3,2553.8 1380.4,2549 1386.4,2535.7 1391.3,2543 1396.1,2555.1 1400.5,2562.3 1407,2561.1 1413.1,2572 1417.9,2564.7 1425.2,2557.5 1428.8,2545.4 1432,2528.4 1436.1,2516.3 1442.1,2506.6 1447,2501.8 1450.6,2487.3 1453,2480 1451.3,2476.2 1455.6,2449.6 1460.3,2426.3 1467.9,2423 1470.3,2396.3 1472.9,2373 1477.9,2349.7 1482.9,2336.4 1486.9,2316.4 1489.6,2289.8 1492.9,2263.2 1496.9,2233.2 1502.9,2209.9 1506.9,2183.3 1510.2,2156.6 1514.6,2136.7 1517.9,2130 1521.2,2130 1524.5,2106 1529.5,2076.1 1536.2,2026.1 1542.9,2009.5 1546.9,1979.5 1551.2,1946.2 1556.2,1916.3 1564.5,1911.3 1567.8,1879.6 1572.8,1853 1577.8,1828 1584.5,1823 1591.1,1803.1 1597.8,1779.8 1603.4,1764 1608.7,1753.1 1615.5,1749.5 1620.8,1735 1626.4,1741 1632.4,1737.4 1637.3,1730.1 1642.1,1686.5 1648.2,1708.3 1653,1731.3 1657.9,1679.3 1663.9,1696.2 1668.8,1684.1 1674.8,1696.2 1679.7,1668.4 1686.9,1674.4 1694.9,1701.1 1701.5,1670.8 1707.5,1674.4 1712.3,1684.1 1717.7,1644.2 1724.5,1647.8 1729.3,1664.7 1732.9,1703.5 1739,1672 1743.8,1650.2 1749.9,1681.7 1754.7,1697.4 1760.8,1661.1 1768,1674.4 1775.3,1655.1 1780.6,1636.9 1785,1659.9 1789.8,1652.6 1797.1,1655.1 1800,1664.7 1803.2,1676.5 1811.5,1693.2 1818.2,1651.6 1824.8,1669.9 1831.5,1679.9 1839.8,1669.9 1848.2,1676.5 1854.8,1661.6 1863.1,1668.2 1873.1,1674.9 1881.4,1669.9 1889.8,1676.5 1896.4,1683.2 1903.1,1668.2 1913.1,1679.9 1919.7,1666.6 1925.7,1696.5 1933.1,1676.5 1943,1676.5 1953,1673.2 1966.3,1674.9 1983,1674.9 1999.6,1676.5 2016.3,1671.6 2032.9,1674.9 2049.6,1671.6 2066.2,1676.5 2079.5,1673.2 2099.5,1674.9 2116.2,1673.2 2132.8,1674.9 2149.5,1669.9 2166.1,1674.9 2182.7,1671.6 2199.4,1673.2 2216,1673.2 2232.7,1673.2 2250,1674.9 2256,1674.9" fill="none" stroke="#c0c0c0" stroke-width="9" stroke-linejoin="round" stroke-linecap="butt" clip-path="url(#cb)"/>
<polyline points="634.5,1644.2 656.3,1641.7 687.8,1637.6 707.2,1639.3 716.9,1640.5 726.5,1636.2 733.8,1640.5 747.1,1640.5 755.6,1644.2 765.3,1644.9 775,1652.6 784.6,1640.5 794.3,1645.4 806.4,1647.8 817.3,1640.5 827,1649 837.9,1640 846.4,1646.6 853.7,1643.4 862.1,1650.2 869.4,1640 876.7,1650.2 885.1,1644.2 893.6,1650.2 904.5,1650.2 913,1645.4 919,1657.5 927.5,1650.2 937.2,1653.8 945.7,1657.5 950.5,1662.3 959,1659.9 962.6,1672 965.8,1684.1 970.6,1679.3 976.4,1679.8 979.6,1696.2 983.2,1710.8 989.2,1722.9 995.3,1735 998.9,1749.5 1002.6,1764 1007.4,1776.1 1009.8,1780 1012.8,1796.4 1019.5,1826.4 1026.2,1856.3 1032.8,1883 1037.8,1909.6 1042.8,1939.6 1049.5,1972.9 1054.4,2002.8 1059.4,2036.1 1064.4,2069.4 1069.4,2102.7 1072.8,2130 1074.6,2163.3 1079.6,2196.6 1084.6,2233.2 1090.3,2269.8 1094.6,2303.1 1099.6,2336.4 1104.6,2369.7 1108.9,2396.3 1111.2,2419.6 1116.2,2443 1122.2,2469.6 1127.9,2496.2 1132.9,2516.2 1137.9,2539.5 1142.9,2552.8 1147.9,2566.1 1152.8,2579.5 1162.8,2580.1 1168.8,2576.1 1174.5,2559.5 1179.5,2542.8 1182.8,2512.9 1186.1,2489.6 1190.1,2466.3 1192.8,2429.6 1196.1,2389.7 1197.8,2356.4 1201.1,2316.4 1203.5,2273.2 1206.1,2229.9 1212.8,2219.9 1215.4,2183.3 1218.8,2130 1218.3,2099.4 1221.6,2079.4 1227.2,2074.4 1231.6,2089.4 1238.2,2101 1243.2,2111 1246.5,2130 1249.9,2170 1253.2,2229.9 1255.9,2279.8 1258.2,2316.4 1260.5,2346.4 1265.9,2366.4 1271.5,2386.4 1275.8,2413 1278,2509.1 1280.4,2543 1282.8,2576.9 1284.7,2613.2 1285.8,2640 1287,2658.7 1288.3,2696.1 1289.6,2733.5 1290.2,2771 1291.6,2799 1298,2809.3 1304.4,2799 1307.2,2771 1308.6,2752.3 1310,2733.5 1311.8,2710.2 1313.9,2686.8 1317,2658.7 1319,2640 1322.3,2625.3 1325.9,2605.9 1329.5,2591.4 1335.6,2581.7 1341.6,2567.2 1346.5,2552.6 1350.1,2549 1355,2550.2 1359.8,2555.1 1362.7,2564.7 1364.6,2584.1 1367.6,2605.9 1370.7,2625.3 1373.8,2649.5 1376.8,2668.9 1380.4,2688.2 1384,2707.6 1387.7,2724.6 1391.3,2736.7 1395.6,2748.8 1401,2752.4 1405.8,2760.9 1410.7,2764.5 1416.7,2758.5 1420.3,2750 1425.2,2747.6 1429.5,2758.5 1433.7,2753.6 1438.5,2740.3 1444.6,2737.9 1450.6,2738.6 1455.4,2719.7 1460.3,2729.4 1466.3,2731.8 1471.2,2727 1478.5,2727 1482.8,2713.7 1488.1,2725.8 1493,2707.6 1496.6,2695.5 1502.7,2690.7 1508,2681 1513.6,2676.1 1517.2,2666.4 1520.8,2654.3 1524.5,2639.8 1530.5,2638.6 1532.9,2620.4 1534.6,2601.1 1537.8,2586.5 1541.9,2574.4 1546.7,2562.3 1551.6,2547.8 1555.9,2533.3 1559.6,2513.9 1562,2494.5 1570.2,2486.2 1576.2,2456.3 1582.8,2413 1589.5,2383 1596.1,2369.7 1599.5,2346.4 1603.5,2316.4 1605.4,2286.5 1612.8,2296.5 1615.4,2269.8 1622.8,2236.5 1629.4,2223.2 1636.1,2189.9 1641.1,2160 1644.4,2130 1649.4,2122.7 1654.4,2109.4 1658.7,2072.7 1666,2064.4 1669.4,2037.8 1676,2032.8 1679.4,1989.5 1684.4,1972.9 1688.7,1946.2 1694.3,1952.9 1700,1912.9 1705,1906.3 1711.7,1879.6 1718.3,1853 1722.6,1844.7 1727.3,1843 1732.6,1879.6 1738.3,1853 1743.3,1819.7 1749.3,1803.1 1753.9,1823 1759.9,1824.7 1764.9,1779.8 1770.6,1769.8 1775.9,1739.8 1780.6,1726.5 1786.6,1769.8 1791.6,1733.1 1796.5,1734.8 1801.5,1741.5 1807.2,1711.5 1813.2,1731.5 1819.2,1709.8 1824.8,1703.2 1829.8,1723.2 1836.5,1699.9 1843.2,1689.9 1850.5,1718.2 1854.8,1676.5 1863.1,1678.2 1869.8,1671.6 1878.1,1663.2 1886.4,1669.9 1894.8,1668.2 1903.1,1683.2 1909.1,1689.9 1916.4,1663.2 1923.7,1686.5 1929.7,1674.9 1936.4,1679.9 1946.4,1678.2 1956.4,1673.2 1966.3,1676.5 1979.7,1676.5 1993,1678.2 2006.3,1676.5 2019.6,1676.5 2032.9,1679.9 2049.6,1676.5 2066.2,1674.9 2082.9,1676.5 2099.5,1674.9 2116.2,1676.5 2132.8,1673.2 2149.5,1674.9 2166.1,1674.9 2182.7,1673.2 2199.4,1674.9 2216,1673.2 2232.7,1674.9 2250,1676.5 2256,1676.5" fill="none" stroke="#ff80ff" stroke-width="9" stroke-linejoin="round" stroke-linecap="butt" clip-path="url(#cb)"/>
<polyline points="634.5,1643.4 640.6,1644.2 649.1,1652.6 660,1651.4 668.4,1649 676.9,1652.6 683.4,1655.1 691.4,1638.1 698.7,1640.5 704.7,1646.6 713.2,1639.3 721.7,1646.6 729,1645.4 736.2,1639.3 744.7,1645.4 753.2,1643.4 760.4,1643 767.7,1651.4 778.6,1640 784.6,1651.4 789.5,1663.5 794.3,1646.6 804,1653.8 813.7,1647.8 819.8,1649 827,1661.1 837.9,1650.2 846.4,1662.3 852.4,1661.1 858.5,1659.9 863.3,1673.2 869.4,1669.6 875.4,1667.2 880.3,1682.9 885.1,1695 891.2,1686.5 897.2,1693.8 900.9,1710.8 905.7,1714.4 913,1720.4 919,1739.8 922.7,1760.4 928.7,1764 932.3,1771.3 934.8,1780 937.9,1813.1 946.2,1846.3 952.9,1873 959.6,1902.9 965.6,1932.9 971.2,1966.2 977.9,2002.8 984.5,2039.4 989.5,2069.4 994.5,2096 998.8,2130 1003,2163.3 1008,2193.3 1012.3,2226.5 1016.3,2259.8 1020.3,2289.8 1024.7,2326.4 1031.3,2359.7 1035.7,2389.7 1039.6,2423 1043.6,2446.3 1048,2472.9 1052.5,2499.4 1056.1,2521.2 1059.8,2545.4 1063.9,2569.6 1068.2,2591.4 1071.9,2610.8 1076,2630.1 1080.8,2644.6 1087.1,2656.8 1090.5,2671.3 1094.4,2685.8 1098.5,2696.7 1104.6,2699.1 1109.4,2712.4 1114.2,2722.1 1120.3,2728.2 1125.9,2730.6 1131.2,2740.3 1137.2,2742.7 1142.1,2743.9 1146.9,2741 1151.8,2747.6 1157.8,2748.8 1163.9,2740.3 1168.7,2737.9 1173.6,2727 1179.6,2717.3 1183.2,2697.9 1186.9,2673.7 1189.8,2649.5 1192.2,2625.3 1194.6,2596.2 1197,2567.2 1200.2,2538.1 1202.6,2509.1 1205,2480 1204.4,2469.6 1211.1,2449.6 1213.4,2413 1216.1,2376.4 1219.4,2336.4 1222.8,2306.5 1226.1,2281.5 1232.7,2283.1 1237.7,2283.1 1242.7,2288.1 1245.4,2316.4 1249.4,2363.1 1252.7,2396.3 1256.1,2429.6 1259.4,2456.3 1264.4,2474.6 1269,2494.5 1272.6,2518.7 1275.5,2547.8 1278,2576.9 1280.4,2601.1 1282.8,2622.9 1284,2640 1285.1,2658.7 1286.5,2696.1 1287.9,2733.5 1288.8,2771 1290.5,2799 1292.4,2811.2 1298,2820.5 1303.6,2811.2 1305.8,2799 1307.4,2785 1309,2771 1310.3,2752.3 1311.8,2733.5 1313.7,2719.5 1315.6,2705.5 1318.6,2691.4 1322.1,2677.4 1328.3,2666.4 1332,2639.8 1339.2,2637.4 1342.9,2647.1 1348.9,2654.3 1353.8,2668.9 1359.8,2671.3 1362.7,2690.7 1367.1,2712.4 1371.9,2734.2 1376.8,2756 1380.4,2770.6 1386.4,2769.3 1391.3,2780.2 1397.3,2782.7 1408.2,2777.8 1417.9,2768.1 1424,2770.6 1428.8,2782.7 1439.7,2763.3 1445.8,2758.5 1449.4,2775.4 1454.2,2780.2 1460.3,2763.3 1466.3,2748.8 1473.6,2752.4 1478.5,2758.5 1482.1,2753.6 1485.7,2770.6 1493,2768.1 1506.3,2753.6 1512.3,2748.8 1519.6,2736.7 1529.3,2753.6 1540.2,2740.3 1548.7,2753.6 1555.9,2737.9 1568,2753.6 1574.1,2743.9 1582.6,2743.9 1588.6,2734.2 1594.7,2741.5 1600,2722.1 1604.8,2713.7 1609.6,2717.3 1615.7,2713.7 1623.4,2705.2 1630.7,2688.2 1637,2702.8 1642.3,2690.7 1646.7,2659.2 1653.2,2659.2 1658.1,2653.1 1662.9,2637.4 1669.4,2665.2 1673.3,2622.9 1678.6,2610.8 1682.3,2591.4 1685.4,2573.2 1690.8,2593.8 1696.1,2595 1700.4,2572 1703.3,2545.4 1705.3,2520 1711.3,2518.7 1717.9,2513.9 1721,2487.3 1727.1,2482.4 1730.7,2480 1732.6,2449.6 1739.3,2439.6 1742.6,2398 1749.3,2396.3 1754.9,2414.7 1764.9,2381.4 1771.6,2378 1774.9,2336.4 1778.2,2296.5 1781.6,2273.2 1787.2,2296.5 1792.6,2309.8 1798.2,2286.5 1803.9,2256.5 1806.5,2209.9 1813.2,2218.2 1816.5,2189.9 1819.9,2163.3 1823.8,2130 1824.8,2112.7 1828.2,2092.7 1832.5,2062.7 1837.2,2039.4 1843.2,2019.5 1851.5,2007.8 1854.8,1979.5 1858.1,1946.2 1861.5,1919.6 1865.8,1906.3 1871.5,1891.3 1874.8,1858 1881.4,1851.3 1886.4,1839.7 1892.4,1814.7 1898.1,1826.4 1902.4,1783.1 1909.7,1781.4 1913.7,1751.5 1924.7,1746.5 1929.1,1716.5 1934.7,1709.8 1941.4,1723.2 1946.4,1708.2 1954.7,1699.9 1963,1691.5 1973,1684.9 1984.7,1685.9 1993,1683.2 1999.6,1688.2 2009.6,1683.2 2019.6,1676.5 2029.6,1679.9 2039.6,1681.5 2052.9,1683.9 2066.2,1684.9 2079.5,1683.2 2092.9,1679.9 2106.2,1681.5 2119.5,1679.9 2132.8,1681.5 2146.1,1678.2 2159.4,1679.9 2172.8,1679.2 2186.1,1678.2 2199.4,1678.2 2216,1679.2 2232.7,1678.2 2250,1679.2 2256,1679.2" fill="none" stroke="#000099" stroke-width="9" stroke-linejoin="round" stroke-linecap="butt" clip-path="url(#cb)"/>
<polyline points="633.3,1646.6 639.4,1647.8 646.6,1644.9 656.3,1643.4 664.8,1642.5 670.8,1652.6 676.9,1643.4 683.4,1646.6 689,1641.7 695.1,1649 703.5,1656.3 712,1649 720.5,1644.9 729,1662.3 736.2,1646.6 745.9,1663.5 753.2,1657 759.2,1663.5 766.5,1684.1 773.8,1676.9 779.8,1674.4 785.9,1696.2 793.1,1695 799.2,1703.5 806.4,1708.3 811.3,1714.4 814.9,1725.3 820.5,1744.6 827,1741 830.7,1764 837.9,1771.3 842.8,1780 846.4,1789.7 853,1816.4 859.7,1833 866.3,1856.3 871.3,1879.6 878,1906.3 883,1932.9 887,1962.9 891.3,1992.8 896.3,2006.2 901.3,2042.8 908,2069.4 913,2092.7 917.9,2130 923.1,2156.6 928.1,2179.9 932.4,2209.9 937.1,2239.9 942.4,2266.5 947.1,2296.5 951.4,2326.4 955.8,2363.1 961.4,2386.4 965.7,2416.3 969.7,2446.3 976.4,2472.9 981.1,2504.2 984.7,2528.4 988.8,2552.6 993.2,2572 997.5,2589 1000.9,2605.9 1005.3,2622.9 1010.1,2635 1014.5,2647.1 1017.4,2664 1020.3,2676.1 1023.4,2687 1029.5,2693.1 1034.3,2702.8 1039.2,2717.3 1045.2,2717.3 1051.3,2729.4 1056.1,2737.9 1061,2742.7 1066.3,2737.9 1070.7,2742.7 1076,2751.2 1081.5,2760.9 1087.6,2746.3 1093.7,2757.2 1099.7,2752.4 1105,2747.6 1110.6,2753.6 1115.4,2758.5 1121,2757.2 1127.6,2762.1 1133.6,2756 1138.5,2753.6 1144.5,2757.2 1150.6,2763.3 1156.6,2764.5 1161.5,2763.8 1167.5,2768.1 1174.8,2766.9 1180.8,2765.7 1185.7,2763.3 1191.2,2763.8 1193.7,2746.3 1196.1,2722.1 1199,2697.9 1201.9,2673.7 1205,2654.3 1208.7,2635 1211.1,2615.6 1213.5,2591.4 1215.9,2567.2 1218.4,2543 1221.3,2521.2 1225.6,2499.4 1230.5,2487.3 1235.3,2481.2 1240.1,2484.8 1245,2499.4 1249.8,2511.5 1254.7,2533.3 1257.1,2552.6 1260,2562.3 1263,2564.7 1267.8,2576.9 1271.4,2596.2 1273.8,2620.4 1277,2635 1280.4,2640 1281.3,2658.7 1282.6,2677.4 1284.2,2705.5 1286.8,2733.5 1288.1,2771 1290,2799 1290.9,2813.1 1293.8,2826.2 1298.5,2832.7 1302.7,2826.2 1305.3,2813.1 1306.7,2799 1308.6,2785 1310.4,2771 1312,2758.8 1313.9,2747.6 1315.8,2739.2 1317.6,2733.5 1320,2726.1 1322.3,2720.4 1325.1,2717.2 1327.1,2714.9 1333.2,2716.1 1340.4,2717.3 1345.3,2720.9 1351.3,2723.3 1356.2,2734.2 1359.8,2751.2 1363.4,2765.7 1367.1,2774.2 1372.4,2777.8 1376.8,2774.2 1381.6,2782.7 1386.4,2792.3 1391.3,2786.3 1397.3,2780.2 1402.2,2787.5 1408.2,2782.7 1413.1,2785.1 1417.9,2797.2 1424,2803.2 1430,2789.9 1433.7,2768.1 1439.7,2765.7 1444.6,2782.7 1450.6,2802 1456.7,2780.2 1461.5,2775.4 1466.3,2762.1 1471.2,2776.6 1477.2,2792.3 1483.3,2780.2 1490.6,2774.2 1499,2748.8 1503.9,2782.7 1509.9,2777.8 1517.2,2768.1 1524.5,2770.6 1530.5,2780.2 1535.4,2768.1 1543.8,2777.8 1551.1,2768.1 1557.1,2753.6 1565.6,2770.6 1571.7,2758.5 1577.7,2750 1583.8,2758.5 1589.8,2773 1597.1,2768.1 1600,2753.6 1604.8,2747.6 1610.8,2770.6 1616.2,2754.8 1623.4,2756 1627.8,2770.6 1631.4,2736.7 1637.5,2729.4 1642.3,2768.1 1648.4,2768.1 1653.2,2748.8 1659.3,2753.6 1664.1,2758.5 1669,2731.8 1674.3,2722.1 1678.6,2748.8 1684.7,2727 1690.8,2731.8 1696.8,2736.7 1702.9,2748.8 1707.7,2760.9 1713.8,2748.8 1721,2714.9 1727.1,2734.2 1732.4,2737.9 1738,2702.8 1744.5,2734.2 1748.9,2729.4 1753.7,2697.9 1759.8,2724.6 1764.6,2683.4 1770.7,2674.9 1776,2699.1 1780.8,2671.3 1787.1,2690.7 1792.4,2678.5 1798.5,2666.4 1802.1,2659.2 1808.2,2647.1 1811.8,2625.3 1817.9,2596.2 1824.4,2613.2 1828.8,2586.5 1832.4,2559.9 1836,2533.3 1839.7,2513.9 1844.5,2494.5 1847.7,2480 1849.2,2462.9 1854.8,2439.6 1857.1,2413 1859.8,2379.7 1864.8,2356.4 1870.5,2336.4 1875.8,2313.1 1878.1,2289.8 1879.8,2259.8 1888.1,2256.5 1892.4,2236.5 1897.1,2213.2 1902.4,2189.9 1908.1,2163.3 1913.1,2143.3 1915.7,2130 1915.7,2112.7 1919.7,2089.4 1924.7,2066.1 1929.7,2049.4 1935.7,2039.4 1939,2012.8 1942.4,1986.2 1946.4,1959.5 1950.4,1932.9 1955.7,1906.3 1961.3,1883 1966.3,1863 1971.3,1843 1978,1819.7 1983.7,1803.1 1991.3,1783.1 1998,1769.8 2003.6,1754.8 2011.3,1739.8 2019.6,1724.8 2029.6,1714.8 2039.6,1708.2 2049.6,1699.9 2057.9,1694.9 2064.6,1698.2 2071.2,1689.9 2079.5,1691.5 2087.9,1686.5 2096.2,1689.2 2104.5,1688.2 2111.2,1684.9 2116.8,1692.5 2124.5,1683.9 2132.8,1683.2 2139.5,1691.5 2147.8,1683.2 2159.4,1691.5 2169.4,1679.9 2179.4,1684.9 2186.1,1679.9 2196.1,1678.2 2206.1,1676.5 2216,1683.2 2226,1679.9 2236,1681.5 2250,1696.5 2256,1696.5" fill="none" stroke="#ff0000" stroke-width="9" stroke-linejoin="round" stroke-linecap="butt" clip-path="url(#cb)"/>
<polyline points="634.5,1652.6 639.4,1666 644.2,1664.7 649.1,1662.3 653.9,1672 661.2,1680.5 667.2,1675.6 672.8,1672 676.9,1693.8 683,1708.3 687.8,1695.7 692.6,1695 699.9,1703.5 704.7,1713.2 710.8,1725.3 716.9,1739.8 720.5,1745.9 726.5,1744.6 730.2,1756.8 737.4,1768.9 743.5,1780 746.5,1788.1 753.1,1799.7 758.1,1819.7 763.1,1836.4 768.1,1853 773.1,1868 778.1,1886.3 782.4,1894.6 786.4,1904.6 789.8,1926.2 794.8,1946.2 799.8,1959.5 803.8,1989.5 808.1,2009.5 813.1,2029.5 818.1,2052.8 823.1,2076.1 827.1,2099.4 830.4,2119.3 832.4,2130 838.2,2150 843.2,2173.3 848.2,2206.6 853.2,2236.5 859.2,2266.5 864.9,2296.5 870.5,2329.8 876.5,2349.7 881.5,2369.7 886.5,2399.7 891.5,2429.6 897.2,2456.3 902.5,2476.2 907.2,2501.8 911.3,2521.2 915.2,2540.5 919.3,2562.3 923.4,2579.3 927.3,2596.2 930.7,2615.6 935.5,2630.1 941.1,2637.4 944.3,2644.6 947.7,2664 952,2673.7 955.6,2683.4 959.3,2695.5 965.3,2695.5 969,2710 973.8,2714.9 978.6,2715.4 983.5,2715.4 988.3,2722.1 992.7,2734.2 998,2733.8 1002.9,2733 1008.2,2737.1 1013.8,2743.9 1018.6,2740.3 1023.4,2739.6 1029.5,2745.9 1034.3,2747.6 1039.2,2747.6 1042.8,2752.4 1046,2760.9 1051.3,2758.5 1056.1,2751.2 1060.5,2769.3 1065.8,2762.1 1071.9,2774.2 1077.9,2770.6 1082.8,2764.5 1087.6,2774.2 1092.4,2765.7 1098.5,2765.2 1104.6,2770.6 1109.4,2777.8 1114.2,2768.6 1119.6,2769.3 1125.9,2786.3 1130.7,2773 1136,2774.9 1142.1,2774.9 1146.9,2771.8 1151.8,2773.5 1157.3,2780.2 1162.7,2779 1168,2782.7 1173.6,2776.6 1178.4,2786.3 1184.5,2779 1189.3,2787.5 1194.6,2796 1199.5,2782.7 1205,2782.2 1208.7,2763.3 1213,2756 1217.1,2746.3 1220.8,2731.8 1224.4,2710 1226.1,2697.9 1230.5,2685.8 1237.7,2679.8 1243.8,2673.7 1247.4,2664 1252.3,2659.7 1257.1,2662.8 1259.3,2661.6 1257.8,2660.1 1263.4,2660.1 1267.1,2664.3 1269.9,2672.7 1271.8,2684.9 1273.7,2698 1276.5,2692.4 1278.4,2682.6 1281.2,2679.8 1282.6,2696.1 1283.5,2714.8 1284.7,2733.5 1286.1,2752.3 1287.5,2771 1288.6,2785 1289.9,2799 1291,2808.4 1292.2,2817.7 1294.1,2829 1298.5,2841.1 1303.3,2829 1304.3,2817.7 1305.7,2808.4 1307.1,2799 1308.8,2789.7 1310.3,2780.3 1312.2,2771 1314.8,2764.4 1318.6,2760.2 1322.3,2758.8 1325.9,2768.1 1332,2769.3 1338,2774.2 1344.1,2785.1 1350.1,2783.9 1356.2,2788.7 1360.3,2802 1364.6,2804.5 1370.7,2797.2 1376.8,2798.4 1380.4,2788.7 1386.4,2811.7 1391.3,2792.3 1398.1,2786.3 1403.4,2804.5 1408.2,2794.8 1414.3,2768.1 1419.1,2797.2 1425.2,2797.2 1434.4,2782.7 1440.9,2797.2 1447,2802 1453,2786.3 1461,2799.6 1466.3,2780.2 1473.6,2788.7 1478.5,2788.7 1482.8,2806.9 1488.1,2792.3 1494.2,2791.1 1500.2,2777.8 1505.6,2791.1 1509.9,2792.3 1514.3,2766.9 1522,2776.6 1529.3,2789.9 1535.4,2774.2 1541.4,2806.9 1546.7,2759.7 1553.5,2782.7 1562,2794.8 1570.5,2775.4 1578.9,2760.9 1587.4,2765.7 1594.7,2763.3 1600,2787.5 1604.1,2789.9 1610.4,2791.1 1616.2,2804.5 1621.7,2785.1 1626.6,2774.2 1631.4,2800.8 1637.5,2785.1 1643.5,2768.1 1647.7,2741.5 1653.2,2760.9 1658.1,2789.9 1662.9,2760.9 1669,2798.4 1674.3,2763.3 1681.1,2762.1 1689.5,2750 1695.6,2793.6 1700.4,2768.1 1706.5,2785.1 1712.5,2752.4 1717.9,2773 1723.4,2765.7 1727.6,2735.4 1732.4,2769.3 1738.7,2739.1 1744,2753.6 1748.9,2730.6 1753.7,2771.8 1759.8,2745.1 1765.8,2752.4 1770.7,2746.3 1776,2718.5 1780.8,2736.7 1785.7,2745.1 1792.9,2741.5 1798.5,2736.7 1801.6,2702.8 1807,2694.3 1813,2720.9 1817.9,2710 1823.9,2705.2 1830,2702.8 1833.6,2673.7 1838.9,2662.8 1844.5,2681 1851.8,2671.3 1859,2665.2 1862.7,2665.2 1865.6,2644.6 1871.1,2648.3 1877.2,2662.8 1882,2625.3 1888.1,2645.9 1892.2,2613.2 1897.8,2608.3 1903.8,2599.9 1909.9,2598.6 1914,2584.1 1918.4,2550.2 1924.4,2543 1928,2521.2 1932.9,2504.2 1938.9,2492.1 1943.1,2480 1946.4,2469.6 1950.4,2446.3 1954.7,2416.3 1959.7,2393 1965.7,2363.1 1971.3,2333.1 1977,2303.1 1981.3,2276.5 1985.7,2246.5 1991.3,2213.2 1996.3,2186.6 2000.3,2163.3 2003.6,2130 2006.3,2109.4 2011.3,2079.4 2015.6,2052.8 2021.3,2026.1 2026.3,2002.8 2031.3,1979.5 2036.3,1952.9 2041.3,1932.9 2046.2,1909.6 2051.2,1886.3 2057.9,1866.3 2062.9,1846.3 2069.6,1829.7 2076.2,1809.7 2082.9,1789.7 2089.5,1779.8 2097.9,1766.4 2103.5,1756.5 2110.2,1743.1 2119.5,1733.1 2127.8,1724.8 2136.1,1716.5 2142.8,1714.8 2149.5,1706.5 2156.1,1708.2 2161.1,1703.2 2165.4,1709.8 2171.1,1701.5 2176.8,1691.5 2181.1,1699.9 2187.7,1693.2 2191.1,1698.2 2197.7,1691.5 2202.7,1693.2 2209.4,1688.2 2216,1688.2 2222.7,1694.9 2229.4,1689.9 2236,1688.2 2242.7,1688.2 2250,1694.9 2256,1696.5" fill="none" stroke="#000000" stroke-width="9" stroke-linejoin="round" stroke-linecap="butt" clip-path="url(#cb)"/>
<line x1="1795.8" y1="39" x2="1785.7" y2="2852" stroke="#000" stroke-width="9" stroke-dasharray="33.7 24.22"/>
<text transform="translate(185.9,1457.3) scale(1,1.012)" font-family="'Liberation Sans', Arial, sans-serif" font-weight="bold" font-size="85.0" fill="#000">0.0</text>
<text transform="translate(185.9,2859.3) scale(1,1.012)" font-family="'Liberation Sans', Arial, sans-serif" font-weight="bold" font-size="85.0" fill="#000">0.0</text>
<text transform="translate(185.9,1221.9) scale(1,1.012)" font-family="'Liberation Sans', Arial, sans-serif" font-weight="bold" font-size="85.0" fill="#000">0.2</text>
<text transform="translate(185.9,2625.4) scale(1,1.012)" font-family="'Liberation Sans', Arial, sans-serif" font-weight="bold" font-size="85.0" fill="#000">0.2</text>
<text transform="translate(182.9,986.5) scale(1,1.012)" font-family="'Liberation Sans', Arial, sans-serif" font-weight="bold" font-size="85.0" fill="#000">0.4</text>
<text transform="translate(182.9,2391.5) scale(1,1.012)" font-family="'Liberation Sans', Arial, sans-serif" font-weight="bold" font-size="85.0" fill="#000">0.4</text>
<text transform="translate(185.4,751.1) scale(1,1.012)" font-family="'Liberation Sans', Arial, sans-serif" font-weight="bold" font-size="85.0" fill="#000">0.6</text>
<text transform="translate(185.4,2157.6) scale(1,1.012)" font-family="'Liberation Sans', Arial, sans-serif" font-weight="bold" font-size="85.0" fill="#000">0.6</text>
<text transform="translate(185.0,515.7) scale(1,1.012)" font-family="'Liberation Sans', Arial, sans-serif" font-weight="bold" font-size="85.0" fill="#000">0.8</text>
<text transform="translate(185.0,1923.7) scale(1,1.012)" font-family="'Liberation Sans', Arial, sans-serif" font-weight="bold" font-size="85.0" fill="#000">0.8</text>
<text transform="translate(185.9,280.3) scale(1,1.012)" font-family="'Liberation Sans', Arial, sans-serif" font-weight="bold" font-size="85.0" fill="#000">1.0</text>
<text transform="translate(185.9,1689.8) scale(1,1.012)" font-family="'Liberation Sans', Arial, sans-serif" font-weight="bold" font-size="85.0" fill="#000">1.0</text>
<text transform="translate(275.7,2930.9) scale(1,1.012)" font-family="'Liberation Sans', Arial, sans-serif" font-weight="bold" font-size="85.0" fill="#000">-90</text>
<text transform="translate(595.5,2930.9) scale(1,1.012)" font-family="'Liberation Sans', Arial, sans-serif" font-weight="bold" font-size="85.0" fill="#000">-60</text>
<text transform="translate(915.4,2930.7) scale(1,1.012)" font-family="'Liberation Sans', Arial, sans-serif" font-weight="bold" font-size="85.0" fill="#000">-30</text>
<text transform="translate(1272.5,2930.9) scale(1,1.012)" font-family="'Liberation Sans', Arial, sans-serif" font-weight="bold" font-size="85.0" fill="#000">0</text>
<text transform="translate(1569.5,2930.7) scale(1,1.012)" font-family="'Liberation Sans', Arial, sans-serif" font-weight="bold" font-size="85.0" fill="#000">30</text>
<text transform="translate(1888.7,2930.9) scale(1,1.012)" font-family="'Liberation Sans', Arial, sans-serif" font-weight="bold" font-size="85.0" fill="#000">60</text>
<text transform="translate(2208.6,2930.9) scale(1,1.012)" font-family="'Liberation Sans', Arial, sans-serif" font-weight="bold" font-size="85.0" fill="#000">90</text>
<text transform="translate(345.5,139.9) scale(1,1.035)" font-family="'Liberation Sans', Arial, sans-serif" font-weight="bold" font-size="110.3" fill="#000">H=100 Oe</text>
<text transform="translate(371.6,1555.5) scale(1,1.039)" font-family="'Liberation Sans', Arial, sans-serif" font-weight="bold" font-size="109.9" fill="#000">H=500 Oe</text>
<text transform="translate(1529.3,140.2) scale(1,1.050)" font-family="'Liberation Sans', Arial, sans-serif" font-weight="bold" font-size="132.5" fill="#0000ff">B</text>
<text transform="translate(1615.7,183.1) scale(1,1.084)" font-family="'Liberation Serif', 'Times New Roman', serif" font-weight="bold" font-size="86.6" fill="#0000ff">Φ</text>
<text transform="translate(1697.0,131.8) scale(1,0.848)" font-family="'Liberation Sans', Arial, sans-serif" font-weight="bold" font-size="135.2" fill="#0000ff">=</text>
<text transform="translate(1812.3,140.2) scale(1,1.050)" font-family="'Liberation Sans', Arial, sans-serif" font-weight="bold" font-size="132.6" fill="#0000ff">2000 G</text>
<text transform="translate(437.5,263.7) scale(1,1.046)" font-family="'Liberation Sans', Arial, sans-serif" font-weight="bold" font-size="93.1" fill="#ff0000">80</text>
<text transform="translate(435.6,364.0) scale(1,1.032)" font-family="'Liberation Sans', Arial, sans-serif" font-weight="bold" font-size="93.1" fill="#00ff00">78</text>
<text transform="translate(438.4,760.8) scale(1,1.023)" font-family="'Liberation Sans', Arial, sans-serif" font-weight="bold" font-size="79.3" fill="#ff8000">77</text>
<text transform="translate(439.8,1364.3) scale(1,0.999)" font-family="'Liberation Sans', Arial, sans-serif" font-weight="bold" font-size="81.3" fill="#0000ff">75</text>
<text transform="translate(458.3,1018.8) scale(1,1.022)" font-family="'Liberation Sans', Arial, sans-serif" font-weight="bold" font-size="72.7" fill="#000">Temperature [K]</text>
<text transform="translate(358.4,2711.4) scale(1,1.039)" font-family="'Liberation Sans', Arial, sans-serif" font-weight="bold" font-size="72.7" fill="#000">Temperature [K]</text>
<text transform="translate(2027.4,1365.0) scale(1,0.990)" font-family="'Liberation Sans', Arial, sans-serif" font-weight="bold" font-size="178.0" fill="#000">(a)</text>
<text transform="translate(2026.9,2777.2) scale(1,0.991)" font-family="'Liberation Sans', Arial, sans-serif" font-weight="bold" font-size="178.5" fill="#000">(b)</text>
<text transform="translate(551.8,1786.4) scale(1,1.000)" font-family="'Liberation Sans', Arial, sans-serif" font-weight="bold" font-size="79.8" fill="#ff8000">77</text>
<text transform="translate(551.8,1901.9) scale(1,1.000)" font-family="'Liberation Sans', Arial, sans-serif" font-weight="bold" font-size="79.8" fill="#008000">76</text>
<text transform="translate(545.6,2010.8) scale(1,1.000)" font-family="'Liberation Sans', Arial, sans-serif" font-weight="bold" font-size="79.8" fill="#0000ff">75</text>
<text transform="translate(539.8,2134.0) scale(1,1.000)" font-family="'Liberation Sans', Arial, sans-serif" font-weight="bold" font-size="79.8" fill="#c0c0c0">74</text>
<text transform="translate(539.8,2254.0) scale(1,1.000)" font-family="'Liberation Sans', Arial, sans-serif" font-weight="bold" font-size="79.8" fill="#ff80ff">73</text>
<text transform="translate(534.4,2368.9) scale(1,1.000)" font-family="'Liberation Sans', Arial, sans-serif" font-weight="bold" font-size="79.8" fill="#000080">72</text>
<text transform="translate(538.3,2487.0) scale(1,1.000)" font-family="'Liberation Sans', Arial, sans-serif" font-weight="bold" font-size="79.8" fill="#ff0000">71</text>
<text transform="translate(531.8,2597.0) scale(1,1.000)" font-family="'Liberation Sans', Arial, sans-serif" font-weight="bold" font-size="79.8" fill="#000000">70</text>
<text transform="translate(118.9,1129.0) rotate(-90) scale(1,1.047)" font-family="'Liberation Sans', Arial, sans-serif" font-weight="bold" font-size="131.3" fill="#000">Transmittivity</text>
<text transform="translate(119.3,2613.6) rotate(-90) scale(1,1.048)" font-family="'Liberation Sans', Arial, sans-serif" font-weight="bold" font-size="131.2" fill="#000">Transmittivity</text>
<text transform="translate(971.5,3101.2) scale(1,0.979)" font-family="'Liberation Serif', 'Times New Roman', serif" font-weight="normal" font-size="137.5" fill="#000" stroke="#000" stroke-width="4" stroke-linejoin="miter">Θ</text>
<text transform="translate(1108.9,3100.7) scale(1,1.000)" font-family="'Liberation Sans', Arial, sans-serif" font-weight="bold" font-size="132.9" fill="#000">(degree)</text>
<g fill="#000" stroke="#000" stroke-width="5" stroke-linejoin="round"><rect x="1766" y="1205.3" width="9" height="50" stroke="none"/><polygon points="1751.5,1252.5 1788.5,1252.5 1770.2,1290.7"/></g>
<g fill="#ff0000" stroke="#ff0000" stroke-width="5" stroke-linejoin="round"><rect x="1404.1" y="2637.9" width="9" height="52" stroke="none"/><polygon points="1389.7,2687.5 1427.6,2687.5 1408.6,2725.5"/></g>
</svg>
</body></html>
